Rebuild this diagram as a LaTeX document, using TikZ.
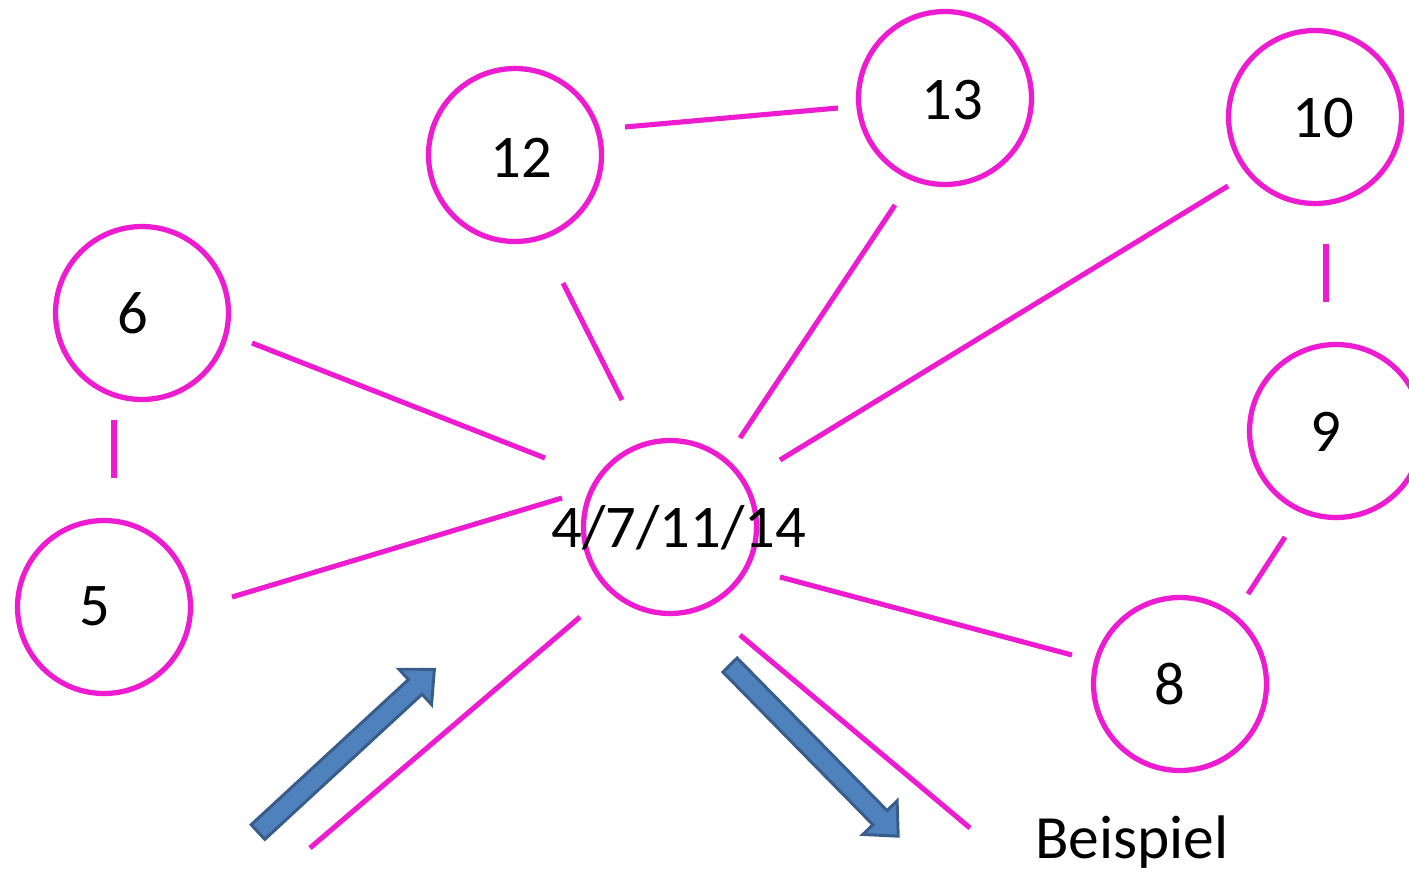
\documentclass[tikz,border=0pt]{standalone}
\usepackage{fontspec}
\setmainfont{Carlito}
\definecolor{mag}{RGB}{238,28,208}
\definecolor{arrfill}{RGB}{79,129,189}
\definecolor{arrline}{RGB}{56,93,138}
\tikzset{
  circ/.style={circle,draw=mag,line width=3pt,minimum size=3.46cm,inner sep=0pt},
  lbl/.style={inner sep=0pt,font=\fontsize{34.5}{40}\selectfont},
  link/.style={draw=mag,line width=2.9pt},
  fatarrow/.pic={
    \draw[line width=1.7pt,draw=arrline,fill=arrfill,line join=miter]
      (0,-10) -- (214,-10) -- (214,-24) -- (240,0) -- (214,24) -- (214,10) -- (0,10) -- cycle;
  }
}
\begin{document}
\begin{tikzpicture}[x=0.02cm,y=-0.02cm]
\clip (0,0) rectangle (1409,872);
\fill[white] (0,0) rectangle (1409,872);

% circles
\node[circ] (n12) at (515,155) {};
\node[circ] (n13) at (945,98) {};
\node[circ] (n10) at (1315,117) {};
\node[circ] (n6) at (142,313) {};
\node[circ] (n5) at (104,607) {};
\node[circ] (n9) at (1336,431) {};
\node[circ] (nC) at (670,527) {};
\node[circ] (n8) at (1180,684) {};

% labels
\node[lbl] (t12) at (521,158) {12};
\node[lbl] (t13) at (952,100) {13};
\node[lbl] (t10) at (1323,118) {10};
\node[lbl] (t6) at (133,313) {6};
\node[lbl] (t5) at (95,606) {5};
\node[lbl] (t9) at (1326,432) {9};
\node[lbl] (t8) at (1170,684) {8};
\node[lbl] (tC) at (679,528) {4/7/11/14};
\node[lbl,anchor=base,font=\fontsize{35}{40}\selectfont] (bsp) at (1132,858) {Beispiel};

% connector end points
\coordinate (a12) at (625,127);  \coordinate (b13) at (838,108);
\coordinate (a6) at (114,420);   \coordinate (b5) at (114,478);
\coordinate (a10) at (1326,244); \coordinate (b9) at (1326,302);
\coordinate (a9) at (1285,537);  \coordinate (b8) at (1248,594);
\coordinate (c6) at (252,343);   \coordinate (d6) at (545,458);
\coordinate (c12) at (563,283);  \coordinate (d12) at (622,400);
\coordinate (c13) at (895,205);  \coordinate (d13) at (740,438);
\coordinate (c10) at (1228,186); \coordinate (d10) at (780,460);
\coordinate (c5) at (232,597);   \coordinate (d5) at (562,498);
\coordinate (c8) at (1072,655);  \coordinate (d8) at (780,577);
\coordinate (eL) at (580,617);   \coordinate (fL) at (310,848);
\coordinate (eR) at (740,635);   \coordinate (fR) at (970,828);

\draw[link] (a12) -- (b13);
\draw[link] (a6) -- (b5);
\draw[link] (a10) -- (b9);
\draw[link] (a9) -- (b8);
\draw[link] (c6) -- (d6);
\draw[link] (c12) -- (d12);
\draw[link] (c13) -- (d13);
\draw[link] (c10) -- (d10);
\draw[link] (c5) -- (d5);
\draw[link] (c8) -- (d8);
\draw[link] (eL) -- (fL);
\draw[link] (eR) -- (fR);

% fat arrows
\pic[rotate=42.7] at (258,832) {fatarrow};
\pic[rotate=-45.5] at (730,665) {fatarrow};
\end{tikzpicture}
\end{document}
